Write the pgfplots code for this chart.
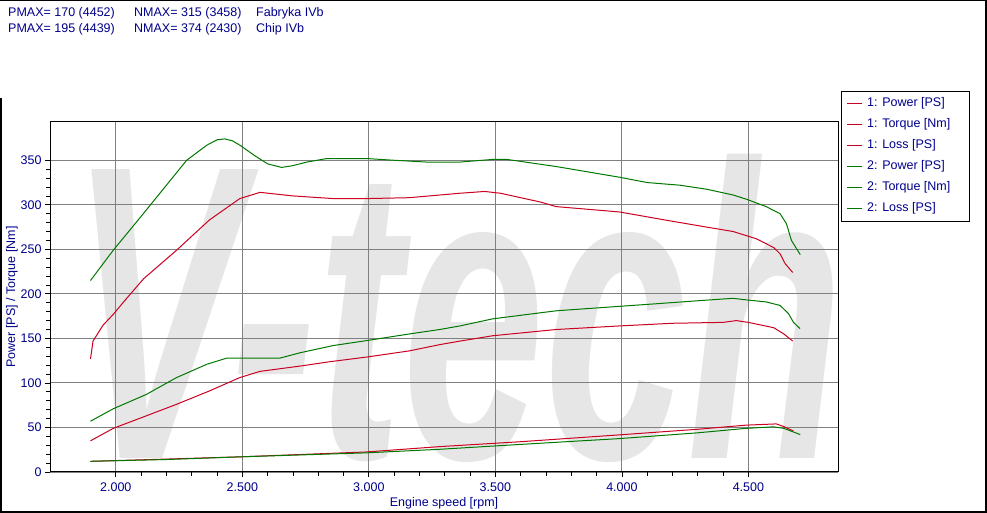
\documentclass[border=0pt]{standalone}
\usepackage{fontspec}
\setmainfont{Liberation Sans}
\usepackage{pgfplots}
\pgfplotsset{compat=1.18}
\definecolor{navy}{RGB}{0,0,140}
\definecolor{dynored}{RGB}{204,0,32}
\definecolor{dynogreen}{RGB}{0,120,0}
\definecolor{gridgray}{RGB}{128,128,128}
\definecolor{wmgray}{RGB}{230,230,230}

\begin{document}
\begin{tikzpicture}[x=1pt,y=1pt]
\useasboundingbox (0,0) rectangle (987,513);
\fill[white] (0,0) rectangle (987,513);

% legend lines
\fill[dynored]   (847,408.5) rectangle (862,410.3);
\fill[dynored]   (847,387.5) rectangle (862,389.3);
\fill[dynored]   (847,366.5) rectangle (862,368.3);
\fill[dynogreen] (847,345.5) rectangle (862,347.3);
\fill[dynogreen] (847,324.5) rectangle (862,326.3);
\fill[dynogreen] (847,303.5) rectangle (862,305.3);
\draw[black, line width=1pt] (841.5,421.5) rectangle (969.5,291.5);

% watermark
\node[text=wmgray, font=\fontsize{400}{400}\selectfont\bfseries\itshape,
      xscale=0.64, yscale=1.05, inner sep=0pt] at (457,205) {V-tech};

\begin{axis}[
  at={(50pt,41pt)}, anchor=south west,
  scale only axis, width=788pt, height=350pt,
  xmin=1740, xmax=4854, ymin=0, ymax=393,
  xtick={2000,2500,3000,3500,4000,4500},
  xticklabels={2.000,2.500,3.000,3.500,4.000,4.500},
  ytick={0,50,100,150,200,250,300,350},
  minor x tick num=4, minor y tick num=4,
  tick align=outside, tick pos=left,
  major tick length=5pt, minor tick length=4pt,
  tick style={black, line width=0.8pt},
  grid=major, major grid style={gridgray, line width=0.9pt},
  axis line style={black, line width=1pt},
  /pgf/number format/assume math mode=true,
  ticklabel style={font=\fontsize{12.5}{14}\selectfont, text=navy},
  xticklabel style={yshift=-2pt},
  xlabel={Engine speed [rpm]},
  ylabel={Power [PS] / Torque [Nm]},
  label style={font=\fontsize{12.5}{14}\selectfont, text=navy},
  xlabel style={yshift=1pt},
  ylabel style={yshift=-4pt},
  every axis plot/.append style={line width=1pt},
]
% 1: Power
\addplot[dynored] coordinates {
(1900,35) (1990,49) (2120,63) (2240,76) (2370,91) (2490,106) (2570,113)
(2730,119) (2850,124) (2990,129) (3160,136) (3280,143) (3360,147) (3490,153)
(3740,160) (3990,164) (4200,167) (4400,168) (4452,170) (4500,168) (4600,162)
(4640,155) (4675,147)};
% 1: Torque
\addplot[dynored] coordinates {
(1900,127) (1910,147) (1950,165) (1990,177) (2040,194) (2110,217) (2240,249)
(2370,283) (2490,307) (2570,314) (2700,310) (2860,307) (2990,307) (3160,308)
(3360,313) (3458,315) (3520,313) (3680,303) (3740,298) (3990,292) (4200,281.5)
(4335,275) (4440,270) (4530,262) (4600,252) (4625,245) (4645,234) (4675,224)};
% 1: Loss
\addplot[dynored] coordinates {
(1900,12) (2200,14.5) (2490,17) (2990,22.5) (3280,28.5) (3600,34) (3990,41.7)
(4300,48) (4490,52.6) (4610,54) (4640,51) (4678,46)};
% 2: Power
\addplot[dynogreen] coordinates {
(1900,57) (1990,71) (2120,87) (2240,106) (2360,121) (2440,128) (2540,128)
(2650,128) (2730,134) (2860,142) (2990,147.5) (3160,155) (3280,160) (3360,164)
(3490,172) (3740,181) (3990,186) (4140,189) (4335,193) (4439,195) (4500,193)
(4570,191) (4625,187) (4658,178) (4678,168) (4704,161)};
% 2: Torque
\addplot[dynogreen] coordinates {
(1900,215) (1990,249) (2100,287) (2280,350) (2360,367) (2400,373) (2430,374)
(2460,372) (2490,367) (2550,355) (2600,346) (2655,342) (2700,344) (2755,348)
(2835,352) (2990,352) (3100,350) (3230,348) (3360,348) (3490,351) (3545,351)
(3740,343) (3990,331) (4100,325) (4230,322) (4335,317.5) (4440,311) (4495,306)
(4570,298) (4625,290) (4650,279) (4670,260) (4705,244)};
% 2: Loss
\addplot[dynogreen] coordinates {
(1900,12) (2200,14) (2490,17) (2990,21.5) (3280,25.5) (3600,31) (3990,37.5)
(4300,44) (4490,49) (4600,50.7) (4640,49) (4705,42)};

\draw[black, line width=2.5pt] (rel axis cs:0,1) -- (rel axis cs:0,0) -- (rel axis cs:1,0);
\end{axis}

% all navy text last
\begin{scope}[every node/.style={inner sep=0pt, text=navy,
    font=\fontsize{12.5}{14}\selectfont}]
  \node[anchor=base west] at (8,496) {PMAX= 170 (4452)};
  \node[anchor=base west] at (134,496) {NMAX= 315 (3458)};
  \node[anchor=base west] at (256,496) {Fabryka IVb};
  \node[anchor=base west] at (8,480) {PMAX= 195 (4439)};
  \node[anchor=base west] at (134,480) {NMAX= 374 (2430)};
  \node[anchor=base west] at (256,480) {Chip IVb};
  \node[anchor=west] at (867,409.5) {1: Power [PS]};
  \node[anchor=west] at (867,388.5) {1: Torque [Nm]};
  \node[anchor=west] at (867,367.5) {1: Loss [PS]};
  \node[anchor=west] at (867,346.5) {2: Power [PS]};
  \node[anchor=west] at (867,325.5) {2: Torque [Nm]};
  \node[anchor=west] at (867,304.5) {2: Loss [PS]};
\end{scope}

% panel frame
\draw[black, line width=1.5pt] (0.75,415) -- (0.75,0.75) -- (986,0.75) -- (986,512.25) -- (0,512.25);
\end{tikzpicture}
\end{document}
